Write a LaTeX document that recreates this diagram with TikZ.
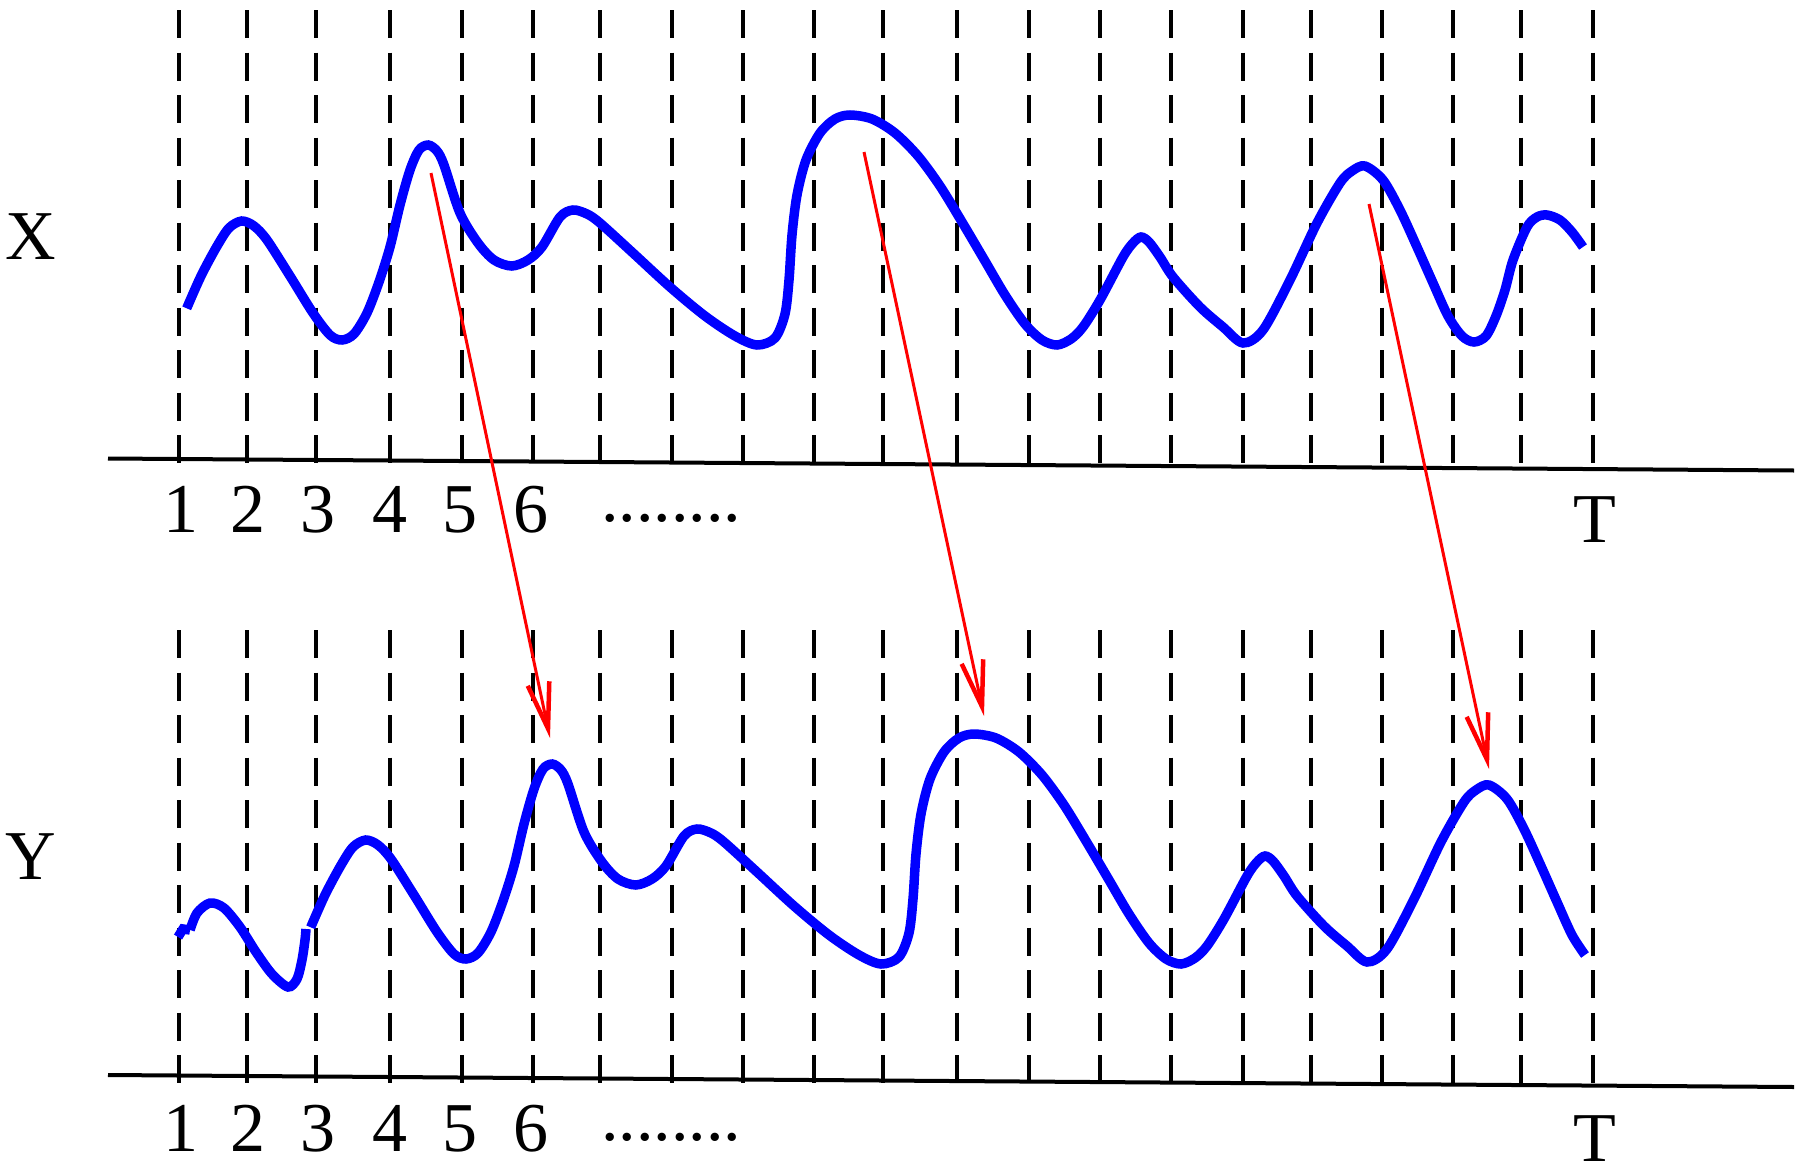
\documentclass[tikz,border=0pt]{standalone}
\usepackage{fontspec}
\setmainfont{Liberation Serif}
\usetikzlibrary{arrows.meta}

\begin{document}
\begin{tikzpicture}[x=1pt,y=-1pt,
    grid/.style={line width=3.6pt,dash pattern=on 28pt off 14.5pt},
    axis/.style={line width=4pt},
    signal/.style={blue,line width=9.5pt},
    match/.style={red,line width=3pt,-{Straight Barb[length=46pt,width=22pt,line width=4.5pt]}},
    lab/.style={font=\fontsize{70}{84}\selectfont,inner sep=0pt,anchor=base}]
  \useasboundingbox (0,0) rectangle (1800,1167);
  % time slots
  \foreach \x in {179,247,316,390,462,533,600,672,743,814,883,957,1029,1100,1171,1243,1311,1382,1453,1521,1593}
  {
    \draw[grid] (\x,10) -- (\x,463);
    \draw[grid] (\x,630) -- (\x,1083);
  }
  \draw[axis]
    (108,458.5)
    --
    (1794,470.5);
  \draw[axis]
    (108,1075)
    --
    (1794,1087);
  % labels
  \node[lab] (xlab) at (31,259) {X};
  \node[lab] (ylab) at (31,879) {Y};
  \foreach \x [count=\i] in {181,248,318,390,460,531}
  {
    \node[lab] (tx\i) at (\x,532) {\i};
    \node[lab] (ty\i) at (\x,1151) {\i};
  }
  \node[lab] (txdots) at (671,521) {........};
  \node[lab] (tydots) at (671,1140) {........};
  \node[lab] (txend) at (1595,542) {T};
  \node[lab] (tyend) at (1595,1161) {T};
  % signal X
  \draw[signal] plot[smooth] coordinates {
    (186.7,308.3) (201,276) (216.7,246.7) (229,228) (241.7,221)
    (254,226) (267,240) (290,276) (313,313) (330,335)
    (342,340) (354,334) (367,313) (379,282) (390,247)
    (400,205) (410,170) (419,150) (428.3,145) (437,151)
    (444,165) (460,213) (478,243) (494,260) (511.7,266)
    (528,260) (542,247) (560,217) (573,210) (587,214)
    (600,223) (633,253) (670,287) (705,316) (735,336)
    (757,345) (775,338) (785,314) (789,280) (792,235)
    (797,195) (806,160) (820,133) (835,119) (850,115)
    (872,119) (895,133) (918,156) (940,186) (962,222)
    (985,261) (1005,295) (1025,324) (1042,340) (1057,345)
    (1071,339) (1083,327) (1100,300) (1123,257) (1133,243)
    (1141,237) (1149,242) (1160,257) (1173,277) (1200,307)
    (1223,327) (1243,343) (1263,330) (1290,280)
    (1317,223) (1340,183) (1352,171) (1365,166) (1383,180)
    (1400,210) (1417,247) (1433,283) (1448,316) (1462,336)
    (1474,342) (1486,336) (1496,316) (1505,290) (1513,260)
    (1527,227) (1537,217) (1547,215) (1560,220) (1572,232)
    (1583,247)};
  % signal Y
  \draw[signal]
    (178,937)
    --
    (183,929)
    --
    (190,930);
  \draw[signal] plot[smooth] coordinates {
    (190,930) (197,913) (210,903) (224,908) (240,927)
    (256,952) (272,974) (288,987) (297,979) (302,960)
    (305,940) (306,929)};
  \begin{scope}[shift={(124,619)}]
    \draw[signal] plot[smooth] coordinates {
      (186.7,308.3) (201,276) (216.7,246.7) (229,228) (241.7,221)
      (254,226) (267,240) (290,276) (313,313) (330,335)
      (342,340) (354,334) (367,313) (379,282) (390,247)
      (400,205) (410,170) (419,150) (428.3,145) (437,151)
      (444,165) (460,213) (478,243) (494,260) (511.7,266)
      (528,260) (542,247) (560,217) (573,210) (587,214)
      (600,223) (633,253) (670,287) (705,316) (735,336)
      (757,345) (775,338) (785,314) (789,280) (792,235)
      (797,195) (806,160) (820,133) (835,119) (850,115)
      (872,119) (895,133) (918,156) (940,186) (962,222)
      (985,261) (1005,295) (1025,324) (1042,340) (1057,345)
      (1071,339) (1083,327) (1100,300) (1123,257) (1133,243)
      (1141,237) (1149,242) (1160,257) (1173,277) (1200,307)
      (1223,327) (1243,343) (1263,330) (1290,280)
      (1317,223) (1340,183) (1352,171) (1365,166) (1383,180)
      (1400,210) (1417,247) (1433,283) (1448,316) (1461,336)};
  \end{scope}
  % matched peaks
  \coordinate (xa) at (431,173);
  \coordinate (ya) at (550,738);
  \coordinate (xb) at (864,152);
  \coordinate (yb) at (984,716);
  \coordinate (xc) at (1369,204);
  \coordinate (yc) at (1489,769);
  \draw[match] (xa) -- (ya);
  \draw[match] (xb) -- (yb);
  \draw[match] (xc) -- (yc);
\end{tikzpicture}
\end{document}
